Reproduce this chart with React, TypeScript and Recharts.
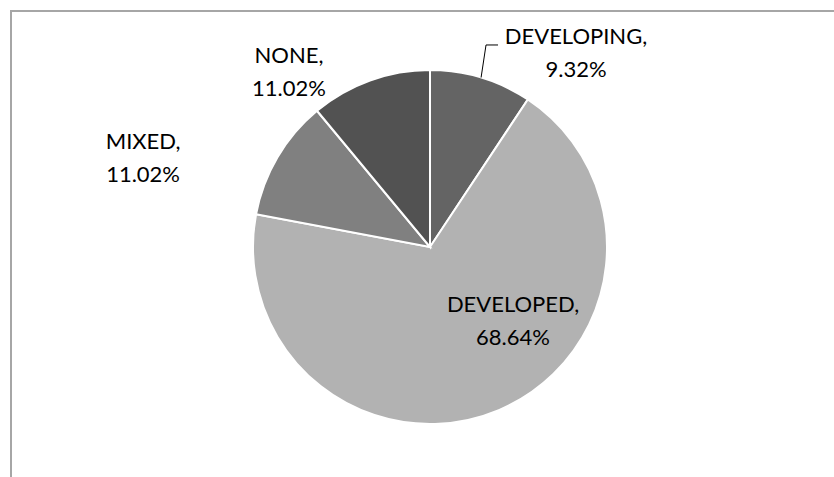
import React from "react";
import { PieChart, Pie, Cell } from "recharts";

const categories = ["DEVELOPING", "DEVELOPED", "MIXED", "NONE"];
const shares = [9.32, 68.64, 11.02, 11.02];
const sliceColors = ["#646464", "#b2b2b2", "#808080", "#525252"];

const data = categories.map((name, i) => ({ name, value: shares[i] }));

// label anchor offsets, as fractions of the outer radius from the centre
const LABEL_LAYOUT = [
  { kx: 0.825, ky: -1.099, leader: true },
  { kx: 0.469, ky: 0.415, leader: false },
  { kx: -1.621, ky: -0.508, leader: false },
  { kx: -0.797, ky: -0.989, leader: false },
];

const FONT = "Lato, 'Open Sans', sans-serif";
const FS = 22;
const PITCH = 33;

const renderLabel = (props: any) => {
  const { cx, cy, outerRadius, midAngle, index, name, value } = props;
  const lay = LABEL_LAYOUT[index];
  const x = cx + outerRadius * lay.kx;
  const y = cy + outerRadius * lay.ky;
  const b1 = y - 8.5;
  const b2 = b1 + PITCH;
  let leader = null;
  if (lay.leader) {
    const rad = (-midAngle * Math.PI) / 180;
    const sx = cx + outerRadius * Math.cos(rad);
    const sy = cy + outerRadius * Math.sin(rad);
    const left = x - 71;
    leader = (
      <polyline
        points={`${sx},${sy} ${left - 19},${b1 + 1} ${left - 7},${b1 + 1}`}
        fill="none"
        stroke="#000"
        strokeWidth={1}
      />
    );
  }
  return (
    <g key={`lbl-${index}`}>
      {leader}
      <text
        x={x}
        y={b1}
        textAnchor="middle"
        fontFamily={FONT}
        fontSize={FS}
        fill="#000"
      >
        {`${name},`}
      </text>
      <text
        x={x}
        y={b2}
        textAnchor="middle"
        fontFamily={FONT}
        fontSize={FS}
        fill="#000"
      >
        {`${Number(value).toFixed(2)}%`}
      </text>
    </g>
  );
};

export default function App() {
  return (
    <div style={{ position: "absolute", left: 0, top: 0, width: 834, height: 477, background: "#fff" }}>
      <div
        style={{
          position: "absolute",
          left: 10,
          top: 10,
          width: 824,
          height: 467,
          boxSizing: "border-box",
          borderTop: "2px solid #a6a6a6",
          borderLeft: "2px solid #a6a6a6",
        }}
      />
      <div style={{ position: "absolute", left: 0, top: 0 }}>
        <PieChart width={834} height={477} margin={{ top: 0, right: 0, bottom: 0, left: 0 }}>
          <Pie
            data={data}
            dataKey="value"
            nameKey="name"
            cx={430}
            cy={247}
            outerRadius={177}
            startAngle={90}
            endAngle={-270}
            stroke="#ffffff"
            strokeWidth={2}
            label={renderLabel}
            labelLine={false}
            isAnimationActive={false}
          >
            {data.map((d, i) => (
              <Cell key={d.name} fill={sliceColors[i]} />
            ))}
          </Pie>
        </PieChart>
      </div>
    </div>
  );
}
